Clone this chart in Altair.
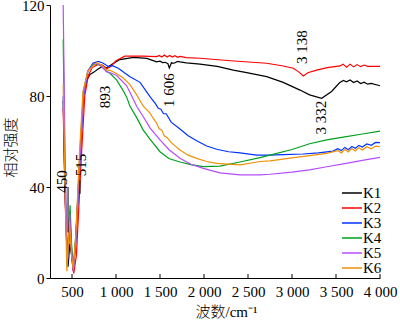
import altair as alt
import pandas as pd

# ---------------- data ----------------
series_names = ["K1", "K2", "K3", "K4", "K5", "K6"]
series_colors = ["#000000", "#ff0000", "#0033ff", "#00a01e", "#b44cff", "#f0900a"]

k1_x = [400, 420, 445, 455, 475, 495, 515, 540, 580, 628, 667, 705, 750, 800, 850, 893, 950, 1045, 1200, 1350, 1462,
        1500, 1530, 1560, 1590, 1606, 1630, 1660, 1700, 1727, 1800, 1955, 2150, 2333, 2500, 2712, 2900, 3091, 3200,
        3337, 3450, 3540, 3583, 3620, 3660, 3700, 3740, 3780, 3820, 3860, 3900, 4000]
k1_y = [78, 40, 8, 5, 15, 10, 3, 15, 45, 80, 87, 89.5, 90.5, 92, 93, 92.3, 93.8, 96, 97, 96.5, 95,
        95.3, 94.7, 94.8, 94.2, 92.3, 94.6, 94.4, 95.2, 95, 94.6, 94, 93, 91.4, 90.2, 88.5, 86, 82.6, 80.5,
        79, 82, 85.8, 86.8, 86.2, 87, 85.9, 86.6, 85.5, 86.1, 85.2, 85.5, 84.5]

k2_x = [400, 420, 450, 480, 500, 520, 550, 610, 645, 685, 730, 800, 850, 893, 940, 1000, 1100, 1300, 1465,
        1490, 1520, 1550, 1580, 1610, 1640, 1670, 1700, 1730, 1800, 1955, 2300, 2712, 2900, 3015, 3080, 3128,
        3180, 3280, 3400, 3545, 3580, 3620, 3660, 3700, 3740, 3780, 3820, 3860, 4000]
k2_y = [75, 35, 8, 25, 8, 2, 10, 56, 80, 89, 92.5, 94, 93.5, 92, 93, 95.5, 97.5, 97.5, 97.3,
        97.8, 97.1, 98, 97.1, 97.8, 97.1, 97.7, 97, 97.4, 96.9, 96.6, 95.5, 94.4, 93.2, 92.2, 90.5, 88.8,
        90.2, 91.4, 92.5, 93.2, 94, 92.7, 94, 92.8, 93.8, 92.9, 93.6, 93, 93]

k3_x = [400, 420, 448, 475, 495, 515, 545, 590, 630, 680, 740, 800, 850, 913, 960, 1026, 1159, 1273, 1386,
        1450, 1480, 1510, 1540, 1570, 1627, 1727, 1820, 1917, 2030, 2144, 2280, 2409, 2598, 2750, 2900,
        3125, 3300, 3466, 3520, 3560, 3600, 3640, 3680, 3720, 3760, 3800, 3850, 3900, 3950, 4000]
k3_y = [80, 40, 5, 25, 12, 4, 18, 52, 80, 91, 94.5, 95.2, 94.5, 93, 93.3, 92.2, 88.5, 86, 79.7,
        76.5, 74.6, 74.2, 72.2, 72.2, 68.5, 65.5, 62.5, 60.3, 58, 56.6, 55.5, 55, 54, 54, 54.2,
        54.5, 55, 55.8, 56.8, 56, 57.4, 56.4, 57.8, 57, 58.3, 57.6, 58.9, 58.3, 59.6, 59.5]

k4_x = [400, 420, 445, 478, 495, 515, 545, 590, 630, 680, 742, 800, 856, 893, 932, 1008, 1080, 1121, 1159,
        1235, 1310, 1386, 1500, 1600, 1727, 1850, 1992, 2182, 2409, 2636, 2750, 3000, 3200, 3394, 3600,
        3800, 4000]
k4_y = [105, 50, 6, 32, 15, 4, 20, 55, 82, 91, 94, 93.8, 92.8, 90.8, 90, 87, 82.5, 79.5, 75.5,
        70.5, 65, 61, 55.5, 52.5, 51, 49.8, 49, 49.2, 51, 52.9, 54, 56.5, 59, 60.7, 62,
        63.3, 64.6]

k5_x = [400, 420, 445, 475, 495, 515, 545, 590, 630, 680, 761, 820, 893, 950, 1008, 1121, 1159, 1235, 1310,
        1386, 1500, 1600, 1727, 1850, 1992, 2182, 2409, 2636, 2750, 3000, 3200, 3394, 3600, 3800, 4000]
k5_y = [120, 55, 6, 28, 12, 3, 18, 52, 80, 91, 94.4, 93.5, 90.7, 90, 89, 84.5, 81.5, 75.5, 70.9,
        66, 60.7, 56.5, 52.6, 50, 48.2, 46.2, 45.3, 45.3, 45.6, 46.5, 47.5, 48.9, 50.3, 51.7, 53]

k6_x = [400, 420, 442, 470, 495, 515, 545, 585, 625, 680, 780, 840, 893, 932, 1000, 1080, 1159, 1235, 1310,
        1386, 1430, 1460, 1490, 1520, 1550, 1580, 1627, 1727, 1820, 1917, 2030, 2144, 2409, 2636, 2750,
        3000, 3200, 3394, 3520, 3560, 3600, 3640, 3680, 3720, 3760, 3800, 3850, 3900, 3950, 4000]
k6_y = [85, 40, 3, 25, 10, 4, 20, 55, 82, 91, 94.6, 93.5, 91.5, 91.3, 90, 88, 85, 80.5, 75.5,
        72.5, 69.8, 68.2, 65.6, 65, 62.4, 61.8, 59.5, 56.3, 54, 52.6, 51.2, 50.4, 49.7, 51.2, 51.5,
        52.8, 53.8, 54.8, 56, 55, 56.5, 55.4, 56.9, 55.8, 57.3, 56.3, 57.7, 56.8, 58, 57.7]

# tick marks and annotations
x_ticks = [500, 1000, 1500, 2000, 2500, 3000, 3500, 4000]
y_ticks = [0, 40, 80, 120]
ann_labels = ["450", "515", "893", "1 606", "3 138", "3 332"]
ann_x = [383, 600, 875, 1602, 3119, 3335]
ann_y = [42.4, 49.7, 79.6, 82.6, 101.5, 70.5]
lead_x = [455, 591]
lead_y1 = [40, 43]
lead_y2 = [20, 37]

# ---------------- tables ----------------
xs = [k1_x, k2_x, k3_x, k4_x, k5_x, k6_x]
ys = [k1_y, k2_y, k3_y, k4_y, k5_y, k6_y]
rows = []
for name, xl, yl in zip(series_names, xs, ys):
    for a, b in zip(xl, yl):
        rows.append({"series": name, "wn": a, "val": b})
df = pd.DataFrame(rows)
ticks_df = pd.DataFrame({"wn": x_ticks})
ann_df = pd.DataFrame({"label": ann_labels, "wn": ann_x, "val": ann_y})
lead_df = pd.DataFrame({"wn": lead_x, "v1": lead_y1, "v2": lead_y2})
legend_df = pd.DataFrame({"series": series_names})

SERIF = "Liberation Serif"
CJK = "Liberation Serif, Noto Sans CJK SC"

xscale = alt.Scale(domain=[250, 4000], nice=False, zero=False)
yscale = alt.Scale(domain=[0, 120], nice=False)
cscale = alt.Scale(domain=series_names, range=series_colors)

x_axis = alt.Axis(
    values=x_ticks, tickSize=0, labelPadding=6, grid=False, labelOverlap=False, labelFlush=False,
    labelExpr="replace(format(datum.value, ','), ',', ' ')",
    title="波数/cm⁻¹", titleX=176, titleY=33, titleAlign="center", titleBaseline="middle",
    titleFont=CJK, titleFontSize=15, titleFontWeight=300,
)
y_axis = alt.Axis(
    values=y_ticks, tickSize=4, labelPadding=2, grid=False, labelOverlap=False,
    title="相对强度", titleX=-40, titleY=142, titleAngle=270, titleAlign="center",
    titleBaseline="middle", titleFont="Noto Sans CJK SC", titleFontSize=15, titleFontWeight=300,
)

lines = alt.Chart(df).mark_line(strokeWidth=1.2, clip=True).encode(
    x=alt.X("wn:Q", scale=xscale, axis=x_axis),
    y=alt.Y("val:Q", scale=yscale, axis=y_axis),
    color=alt.Color("series:N", scale=cscale, legend=None),
    detail="series:N",
)

tick_marks = alt.Chart(ticks_df).mark_rule(color="black", strokeWidth=1).encode(
    x=alt.X("wn:Q", scale=xscale),
    y=alt.value(273),
    y2=alt.value(269),
)

ann = alt.Chart(ann_df).mark_text(
    angle=270, font=SERIF, fontSize=15, align="center", baseline="middle", color="black"
).encode(
    x=alt.X("wn:Q", scale=xscale),
    y=alt.Y("val:Q", scale=yscale),
    text="label:N",
)

leaders = alt.Chart(lead_df).mark_rule(color="black", strokeWidth=1).encode(
    x=alt.X("wn:Q", scale=xscale),
    y=alt.Y("v1:Q", scale=yscale),
    y2="v2:Q",
)

# legend (drawn as marks so that the row spacing matches)
leg_y = alt.Y("series:N", scale=alt.Scale(type="point", domain=series_names, range=[188, 263], padding=0),
              axis=None)
leg_rule = alt.Chart(legend_df).mark_rule(strokeWidth=1.5).encode(
    y=leg_y, x=alt.value(292), x2=alt.value(312),
    color=alt.Color("series:N", scale=cscale, legend=None),
)
leg_text = alt.Chart(legend_df).mark_text(
    font=SERIF, fontSize=15, align="left", baseline="middle", color="black", dx=1
).encode(
    y=leg_y, x=alt.value(312), text="series:N",
)

main = alt.layer(lines, leaders, ann, tick_marks)
legend = alt.layer(leg_rule, leg_text)

chart = alt.layer(main, legend).resolve_scale(y="independent").properties(
    width=330, height=273,
    autosize=alt.AutoSizeParams(type="none"),
    padding={"left": 50, "top": 5, "right": 20, "bottom": 44},
).configure_view(stroke=None).configure_axis(
    domainColor="black", tickColor="black", labelColor="black", titleColor="black",
    labelFont=SERIF, labelFontSize=15, domainWidth=1,
)

chart.save("out.html", embed_options={"renderer": "svg", "actions": False})
